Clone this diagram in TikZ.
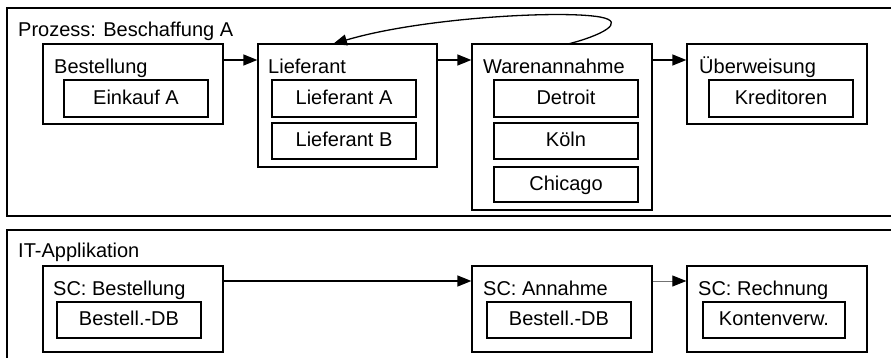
\documentclass[tikz,border=0pt]{standalone}
\usepackage{fontspec}
\setmainfont{Liberation Sans}
\usetikzlibrary{arrows.meta}
\begin{document}
\begin{tikzpicture}[x=1pt,y=-1pt,
  every node/.style={font=\fontsize{20}{24}\selectfont},
  outer/.style={draw,line width=1.6pt,inner sep=0pt},
  box/.style={draw,line width=1.3pt,inner sep=0pt},
  inner/.style={draw,line width=1.3pt,inner sep=0pt,minimum width=144pt,minimum height=37pt,text height=14.3pt,text depth=3pt},
  lbl/.style={anchor=base west,inner sep=0pt},
  arr/.style={line width=1.3pt,-{Triangle[length=14pt,width=11pt]}},
  arrthin/.style={line width=0.8pt,draw=black!55,-{Triangle[length=14pt,width=11pt,color=black,fill=black]}}]
\clip (0,0) rectangle (891,358);
% top process frame
\node[outer,minimum width=888pt,minimum height=208pt] (outerA) at (451,112) {};
\node[lbl] (tA) at (18,37) {Prozess: Beschaffung A};
\node[box,minimum width=180pt,minimum height=80pt] (best) at (133,84) {};
\node[lbl] (tbest) at (54,74) {Bestellung};
\node[inner] (einkauf) at (136,98.5) {Einkauf A};
\node[box,minimum width=179pt,minimum height=123pt] (lief) at (347.5,105.5) {};
\node[lbl] (tlief) at (268,74) {Lieferant};
\node[inner] (liefA) at (344,98.5) {Lieferant A};
\node[inner,minimum height=36pt] (liefB) at (344,141) {Lieferant B};
\node[box,minimum width=180pt,minimum height=166pt] (waren) at (562,127) {};
\node[lbl] (twaren) at (483,74) {Warenannahme};
\node[inner] (detroit) at (566,98.5) {Detroit};
\node[inner,minimum height=36pt] (koeln) at (566,141) {Köln};
\node[inner,minimum height=35pt] (chicago) at (566,184.5) {Chicago};
\node[box,minimum width=180pt,minimum height=80pt] (ueber) at (777,84) {};
\node[lbl] (tueber) at (699,74) {Überweisung};
\node[inner] (kred) at (781,98.5) {Kreditoren};
\coordinate (ya) at (0,60);
\draw[arr] (best.east |- ya) -- (lief.west |- ya);
\draw[arr] (lief.east |- ya) -- (waren.west |- ya);
\draw[arr] (waren.east |- ya) -- (ueber.west |- ya);
\coordinate (cs) at (568,44);
\coordinate (cm) at (600,17);
\coordinate (ce) at (333,44);
\draw[arr] (cs) .. controls (600,36) and (628,22) .. (cm) .. controls (560,10) and (420,18) .. (ce);
% bottom IT frame
\node[outer,minimum width=888pt,minimum height=132pt] (outerB) at (451,296) {};
\node[lbl] (tB) at (18,257) {IT-Applikation};
\node[box,minimum width=180pt,minimum height=86pt] (scb) at (133,309) {};
\node[lbl] (tscb) at (53,295) {SC: Bestellung};
\node[inner,minimum height=36pt] (db1) at (129,320) {Bestell.-DB};
\node[box,minimum width=180pt,minimum height=86pt] (sca) at (562,309) {};
\node[lbl] (tsca) at (483,295) {SC: Annahme};
\node[inner,minimum height=36pt] (db2) at (559,320) {Bestell.-DB};
\node[box,minimum width=180pt,minimum height=86pt] (scr) at (777,309) {};
\node[lbl] (tscr) at (698,295) {SC: Rechnung};
\node[inner,minimum width=142pt,minimum height=36pt] (kv) at (774,320) {Kontenverw.};
\coordinate (yb) at (0,281);
\draw[arr] (scb.east |- yb) -- (sca.west |- yb);
\draw[arrthin] (sca.east |- yb) -- (scr.west |- yb);
\end{tikzpicture}
\end{document}
